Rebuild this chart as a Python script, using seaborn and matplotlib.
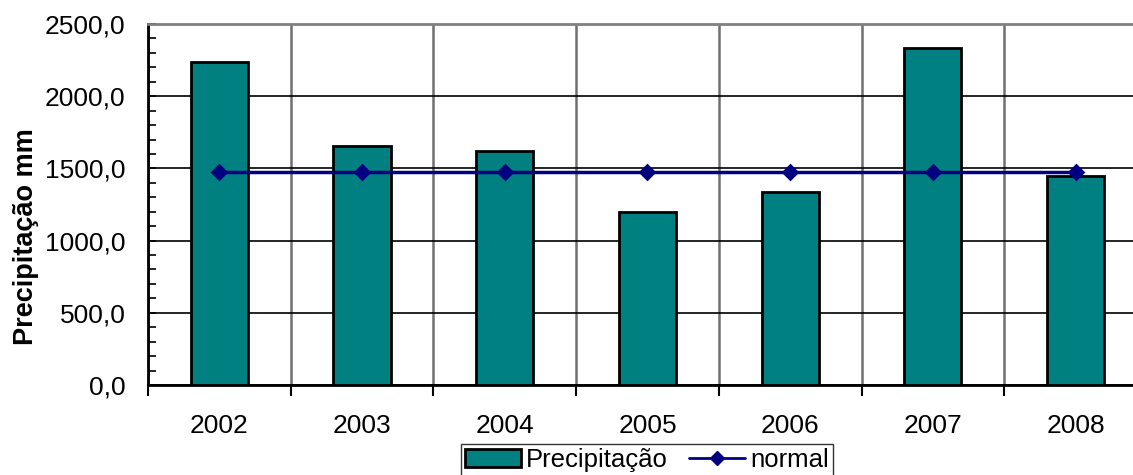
import numpy as np
import pandas as pd
import seaborn as sns
from matplotlib import pyplot as plt
from matplotlib.lines import Line2D
from matplotlib.patches import Patch
from matplotlib.ticker import FuncFormatter, MultipleLocator, FixedLocator

sns.set_style("white")
plt.rcParams["font.family"] = ["Liberation Sans", "DejaVu Sans"]
plt.rcParams["text.color"] = "black"
plt.rcParams["xtick.labelcolor"] = "black"
plt.rcParams["ytick.labelcolor"] = "black"
plt.rcParams["axes.labelcolor"] = "black"

anos = ["2002", "2003", "2004", "2005", "2006", "2007", "2008"]
precipitacao = [2237, 1655, 1622, 1196, 1339, 2334, 1447]
normal = [1477, 1477, 1477, 1477, 1477, 1477, 1477]

df = pd.DataFrame({"ano": anos, "precipitacao": precipitacao, "normal": normal})

teal = "#008080"
navy = "#000080"

fig = plt.figure(figsize=(11.33, 4.75), dpi=100)
ax = fig.add_axes([0.1306, 0.1895, 0.8817, 0.76])

sns.barplot(data=df, x="ano", y="precipitacao", color=teal, saturation=1,
            width=0.4, edgecolor="black", linewidth=2, ax=ax, zorder=3)
sns.pointplot(data=df, x="ano", y="normal", color=navy, markers="D",
              markersize=7, linewidth=2.5, ax=ax, zorder=4)

ax.set_ylim(0, 2500)
ax.set_xlim(-0.5, 6.5)
ax.yaxis.set_major_locator(MultipleLocator(500))
ax.yaxis.set_minor_locator(MultipleLocator(100))
ax.yaxis.set_major_formatter(FuncFormatter(lambda v, _: f"{v:.1f}".replace(".", ",")))
ax.xaxis.set_minor_locator(FixedLocator(np.arange(-0.5, 7, 1)))

ax.grid(False)
ax.yaxis.grid(True, which="major", color="black", linewidth=1.2, zorder=0)
ax.xaxis.grid(True, which="minor", color="#707070", linewidth=1.8, zorder=0)
ax.set_axisbelow(True)

ax.tick_params(axis="y", which="both", direction="in", length=6, width=1.2,
               color="black", labelsize=19, pad=16, left=True)
ax.tick_params(axis="x", which="major", length=0, labelsize=19, pad=21)
ax.tick_params(axis="x", which="minor", direction="out", length=8, width=1.5,
               color="black", bottom=True)

for side in ["left", "bottom"]:
    ax.spines[side].set_color("black")
    ax.spines[side].set_linewidth(2)
ax.spines["top"].set_color("#808080")
ax.spines["top"].set_linewidth(2)
ax.spines["right"].set_visible(False)

ax.set_xlabel("")
ax.set_ylabel("Precipitação mm", fontsize=19.5, fontweight="bold")
ax.yaxis.set_label_coords(-0.109, 0.41)

handles = [
    Patch(facecolor=teal, edgecolor="black", linewidth=2),
    Line2D([0], [0], color=navy, marker="D", markersize=7, linewidth=2),
]
fig.legend(handles, ["Precipitação", "normal"], loc="upper center",
           bbox_to_anchor=(0.571, 0.065), ncol=2, fontsize=18.5, frameon=True,
           fancybox=False, edgecolor="black", handlelength=2.2,
           handletextpad=0.2, columnspacing=0.8, borderpad=0.15,
           borderaxespad=0)

plt.savefig("out.png", dpi=100)
